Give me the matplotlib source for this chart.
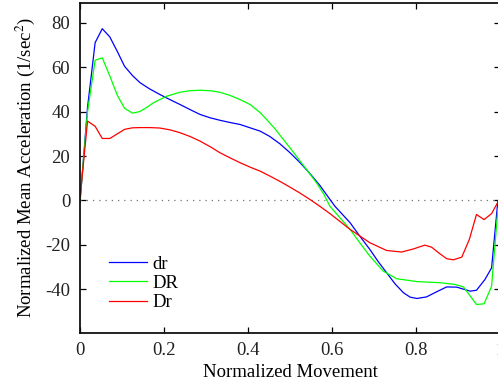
import numpy as np
import matplotlib
matplotlib.use("Agg")
import matplotlib.pyplot as plt

# curve vertices
x_dr = [0, 0.018, 0.036, 0.053, 0.071, 0.089, 0.106, 0.126, 0.143, 0.165, 0.19,
        0.214, 0.238, 0.262, 0.286, 0.31, 0.333, 0.357, 0.381, 0.405, 0.429,
        0.452, 0.476, 0.5, 0.524, 0.548, 0.571, 0.595, 0.607, 0.643, 0.666,
        0.69, 0.71, 0.73, 0.75, 0.77, 0.786, 0.802, 0.825, 0.85, 0.873,
        0.897, 0.929, 0.944, 0.964, 0.98, 0.995]
y_dr = [-1, 42, 71, 77.3, 73.6, 67, 60.4, 56, 53, 50.3, 47.7,
        45.4, 43.2, 40.9, 38.7, 37.2, 36.1, 35.1, 34.2, 32.7, 31.2,
        28.8, 25.5, 21.5, 17, 12, 6.8, 0.5, -2.6, -10, -16,
        -22, -27.5, -32.5, -37.5, -41.5, -43.5, -44.1, -43.4, -41, -38.9,
        -39, -40.8, -40.4, -35.6, -30.3, 0]

x_DR = [0, 0.018, 0.036, 0.053, 0.071, 0.089, 0.106, 0.125, 0.142, 0.16, 0.175,
        0.206, 0.238, 0.262, 0.286, 0.31, 0.333, 0.357, 0.381, 0.405, 0.429,
        0.444, 0.464, 0.484, 0.504, 0.524, 0.544, 0.563, 0.58, 0.595, 0.62,
        0.643, 0.666, 0.69, 0.722, 0.754, 0.802, 0.857, 0.893, 0.913, 0.944,
        0.962, 0.98, 0.995]
y_DR = [0, 40, 63.1, 64.2, 56, 47.3, 41.5, 39.3, 40, 42, 44,
        46.9, 48.7, 49.4, 49.6, 49.4, 48.7, 47.3, 45.4, 43.2, 39.5,
        36.5, 32.3, 27.5, 22.7, 17.7, 12.8, 8, 3, -2.6, -8,
        -13, -19, -25, -31.8, -35.2, -36.5, -37, -37.8, -38.9, -46.8,
        -46.5, -38.6, -4]

x_Dr = [0, 0.018, 0.036, 0.053, 0.071, 0.089, 0.106, 0.125, 0.143, 0.167, 0.19,
        0.214, 0.238, 0.262, 0.286, 0.31, 0.333, 0.357, 0.381, 0.405, 0.429,
        0.452, 0.476, 0.5, 0.524, 0.548, 0.571, 0.595, 0.62, 0.643, 0.69,
        0.73, 0.766, 0.794, 0.821, 0.837, 0.857, 0.873, 0.889, 0.909, 0.927,
        0.944, 0.962, 0.98, 1.0]
y_Dr = [1, 35.7, 33.4, 27.9, 27.9, 30, 32, 32.7, 32.8, 32.8, 32.6,
        31.8, 30.5, 28.8, 26.7, 24.2, 21.5, 19.2, 17, 15, 13.2,
        11, 8.6, 6, 3.3, 0.4, -2.6, -5.9, -9.6, -13, -19,
        -22.5, -23.2, -21.8, -20.1, -21, -24, -26.2, -26.7, -25.5, -17.5,
        -6.3, -8.6, -5.9, 1]

x_ticks = [0, 0.2, 0.4, 0.6, 0.8, 1]
x_tick_labels = ["0", "0.2", "0.4", "0.6", "0.8", "1"]
y_ticks = [-40, -20, 0, 20, 40, 60, 80]

plt.rcParams.update({
    "font.family": ["Liberation Serif", "DejaVu Serif"],
    "mathtext.fontset": "stix",
    "axes.unicode_minus": False,
    "font.size": 13.5,
})

fig = plt.figure(figsize=(4.98, 3.87), dpi=100)
ax = fig.add_axes([80 / 498, 1 - 332.7 / 387, 420 / 498, 330 / 387])

ax.plot([0, 1], [0, 0], color="0.45", linestyle=(0, (1, 4)), linewidth=0.9)
ax.plot(x_dr, y_dr, color=(0, 0, 1), linewidth=0.9, label="dr")
ax.plot(x_DR, y_DR, color=(0, 1, 0), linewidth=0.9, label="DR")
ax.plot(x_Dr, y_Dr, color=(1, 0, 0), linewidth=0.9, label="Dr")

ax.set_xlim(0, 1)
ax.set_ylim(-59.5, 89)
ax.set_xticks(x_ticks)
ax.set_xticklabels(x_tick_labels)
ax.set_yticks(y_ticks)
ax.tick_params(direction="in", top=True, right=True, length=4, width=0.9,
               pad=7, colors="black", labelcolor="#222222")
for s in ax.spines.values():
    s.set_linewidth(1.3)
    s.set_color("#111111")

ax.set_xlabel("Normalized Movement", labelpad=3)
ax.set_ylabel("Normalized Mean Acceleration (1/sec$^2$)", labelpad=6)

ax.legend(loc="lower left", bbox_to_anchor=(0.052, 0.042), frameon=False,
          handlelength=2.0, handletextpad=0.3, labelspacing=0.12,
          borderaxespad=0)

fig.savefig("out.png", dpi=100)
